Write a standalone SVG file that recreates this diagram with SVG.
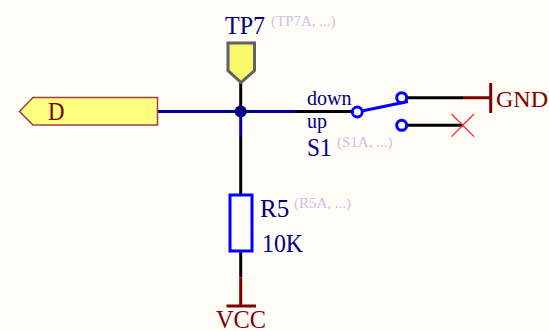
<svg xmlns="http://www.w3.org/2000/svg" width="549" height="331" viewBox="0 0 549 331">
<style>
text{font-family:"Liberation Serif","Times New Roman",serif}
.n{fill:#000080}
.m{fill:#800000}
.g{fill:#c6c6e0;font-size:15px}
.w{fill:none;stroke-linecap:butt}
.bl{stroke:#000;stroke-width:3}
.nv{stroke:#000090;stroke-width:3}
.pw{stroke:#800000;stroke-width:3}
.c{fill:#fffcf8;stroke:#0000ff;stroke-width:3}
</style>
<rect width="549" height="331" fill="#fffcf8"/>
<g id="connectors">
<path class="w nv" d="M158 111.500H296M240.700 111.500V136"/>
<path class="w bl" d="M240.700 83V111M296 111.500H352M240.700 136V195M240.700 251V277.500M407 97.700H463M407 125.300H463"/>
<path class="w pw" d="M240.700 277.500V306M463 97.700H490"/>
</g>
<g id="junction"><circle cx="240.700" cy="111.500" r="6" fill="#000080"/></g>
<g id="D">
<path d="M19.500 111.500L33 97.500H157.500V125H33Z" fill="#ffff80" stroke="#a04040" stroke-width="1.500"/>
<text x="48" y="120" font-size="25" textLength="16.500" lengthAdjust="spacingAndGlyphs" fill="#800000">D</text>
</g>
<g id="TP7">
<path d="M228 43H254.500V70.500L241 82.500L228 70.500Z" fill="#f8f868" stroke="#606068" stroke-width="3"/>
<text x="225" y="34" font-size="26" textLength="40" lengthAdjust="spacingAndGlyphs" class="n">TP7</text>
<text x="271" y="26" class="g">(TP7A, ...)</text>
</g>
<g id="S1">
<path class="w" stroke="#0000ff" stroke-width="3" d="M357 112L408 101.500"/>
<circle class="c" cx="357.300" cy="112" r="5"/>
<circle class="c" cx="401.700" cy="97.700" r="5"/>
<circle class="c" cx="401.700" cy="125.300" r="5"/>
<text x="307" y="105" font-size="20" class="n">down</text>
<text x="307" y="128" font-size="20" class="n">up</text>
<text x="307" y="156" font-size="25" textLength="24.500" lengthAdjust="spacingAndGlyphs" class="n">S1</text>
<text x="337" y="147" class="g">(S1A, ...)</text>
</g>
<g id="NC"><path d="M451.500 114L474 136.700M474 114L451.500 136.700" fill="none" stroke="#ff2020" stroke-width="1.200"/></g>
<g id="GND">
<path class="w" stroke="#800000" stroke-width="3" d="M490.700 83V113"/>
<text x="496" y="107" font-size="24" class="m">GND</text>
</g>
<g id="R5">
<rect x="230" y="195" width="22" height="56" fill="none" stroke="#0000ff" stroke-width="3"/>
<text x="260" y="217" font-size="25" class="n">R5</text>
<text x="294" y="208" class="g">(R5A, ...)</text>
<text x="262" y="252" font-size="25" textLength="41" lengthAdjust="spacingAndGlyphs" class="n">10K</text>
</g>
<g id="VCC">
<path class="w" stroke="#800000" stroke-width="3" d="M226.500 306H256"/>
<text x="216" y="327.500" font-size="25" textLength="50" lengthAdjust="spacingAndGlyphs" class="m">VCC</text>
</g>
</svg>
